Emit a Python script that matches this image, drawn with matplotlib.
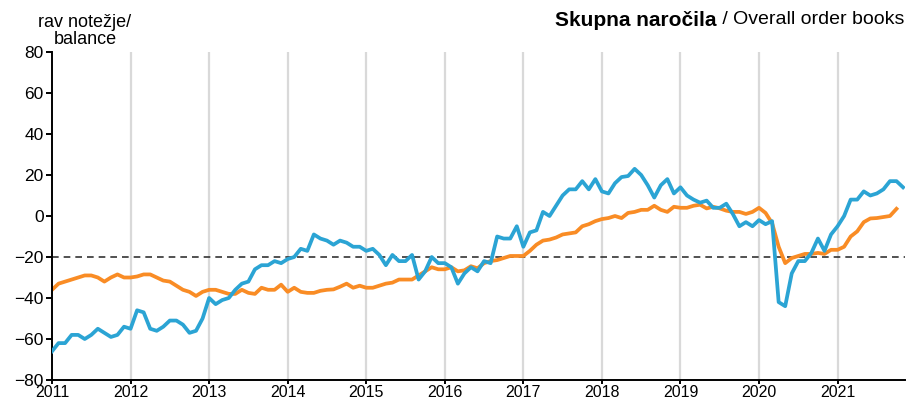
import numpy as np
import matplotlib
matplotlib.use("Agg")
import matplotlib.pyplot as plt

plt.rcParams['font.family'] = ['Liberation Sans', 'DejaVu Sans']

# monthly, Jan 2011 .. Nov 2021
start_year = 2011
years = list(range(2011, 2022))
y_ticks = list(range(-80, 81, 20))
threshold = -20

blue = [
    -66, -62, -62, -58, -58, -60, -58, -55, -57, -59, -58, -54,
    -55, -46, -47, -55, -56, -54, -51, -51, -53, -57, -56, -50,
    -40, -43, -41, -40, -36, -33, -32, -26, -24, -24, -22, -23,
    -21, -20, -16, -17, -9, -11, -12, -14, -12, -13, -15, -15,
    -17, -16, -19, -24, -19, -22, -22, -19, -31, -27, -20, -23,
    -23, -25, -33, -28, -25, -27, -22, -23, -10, -11, -11, -5,
    -15, -8, -7, 2, 0, 5, 10, 13, 13, 17, 13, 18,
    12, 11, 16, 19, 19.5, 23, 20, 15, 9, 15, 18, 11,
    14, 10, 8, 6.5, 7.5, 4, 4, 6, 1, -5, -3, -5,
    -2, -4, -2.5, -42, -44, -28, -22, -22, -18, -11, -17, -9,
    -5, 0, 8, 8, 12, 10, 11, 13, 17, 17, 14,
]

orange = [
    -36, -33, -32, -31, -30, -29, -29, -30, -32, -30, -28.5, -30,
    -30, -29.5, -28.5, -28.5, -30, -31.5, -32, -34, -36, -37, -39, -37,
    -36, -36, -37, -38, -38, -36, -37.5, -38, -35, -36, -36, -33.5,
    -37, -35, -37, -37.5, -37.5, -36.5, -36, -35.8, -34.5, -33, -35, -34,
    -35, -35, -34, -33, -32.5, -31, -31, -31, -29, -27, -25, -26,
    -26, -25, -27, -26.5, -24.5, -25.5, -23, -22, -21.5, -20.5, -19.5, -19.5,
    -19.5, -17, -14, -12, -11.5, -10.5, -9, -8.5, -8, -5, -4, -2.5,
    -1.5, -1, 0, -1, 1.5, 2, 3, 3, 5, 3, 2, 4.5,
    4, 4, 5, 5.5, 3.7, 4.5, 3.7, 2.6, 2, 2, 1, 2,
    4, 1.5, -3.5, -15, -23, -20.5, -19.5, -18.5, -18.5, -18, -18.5, -16.5,
    -16.5, -15, -10, -7.5, -3, -1.2, -1, -0.5, 0, 3.5, np.nan,
]

x = start_year + np.arange(len(blue)) / 12.0

fig = plt.figure(figsize=(9.06, 4.01), dpi=100)
ax = fig.add_axes([52 / 906, 21 / 401, 853 / 906, 328 / 401])

for yr in years[1:]:
    ax.axvline(yr, color='#d9d9d9', lw=1.6, zorder=0)

ax.axhline(threshold, color='#333333', lw=1.2, ls=(0, (4, 3)), zorder=1)
ax.plot(x, orange, color='#f98c25', lw=2.7, zorder=2)
ax.plot(x, blue, color='#2ba4d4', lw=2.7, zorder=3)

ax.set_xlim(2011, 2011 + 130.3 / 12)
ax.set_ylim(-80, 80)
ax.set_xticks(years)
ax.set_xticklabels([str(y) for y in years])
ax.set_yticks(y_ticks)

for side in ['top', 'right']:
    ax.spines[side].set_visible(False)
for side in ['left', 'bottom']:
    ax.spines[side].set_linewidth(1.4)
    ax.spines[side].set_color('black')
ax.tick_params(axis='y', labelsize=12.5, width=1.4, length=4, pad=2, colors='black')
ax.tick_params(axis='x', labelsize=11.5, width=1.4, length=3, pad=0.5, colors='black')

fig.text(85 / 906, 1 - 31 / 401, 'rav notežje/\nbalance', ha='center', va='center',
         fontsize=13, linespacing=1.0)

t = fig.text(0.998, 1 - 20 / 401, ' / Overall order books', ha='right', va='center', fontsize=14)
ax.annotate('Skupna naročila', xy=(0, 0.5), xycoords=t, ha='right', va='center',
            fontsize=15, fontweight='bold', annotation_clip=False)

fig.savefig('out.png', dpi=100)
